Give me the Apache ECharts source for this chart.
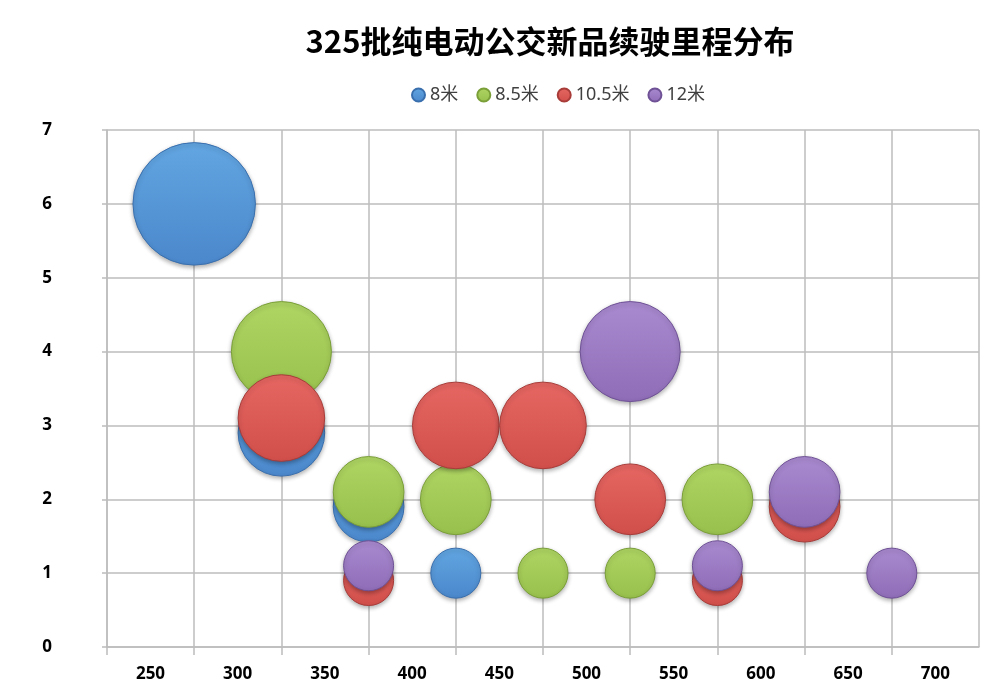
<!DOCTYPE html>
<html>
<head>
<meta charset="utf-8">
<script src="https://cdn.jsdelivr.net/npm/echarts@6/dist/echarts.min.js"></script>
<style>html,body{margin:0;padding:0;background:#fff}#c{width:1000px;height:692px}</style>
</head>
<body>
<div id="c"></div>
<script>
var titleText = '325批纯电动公交新品续驶里程分布';
var seriesNames = ['8米', '8.5米', '10.5米', '12米'];
// x: range (km), y: plotted position, n: number of models (bubble size)
var x8 = [300, 350, 400, 450];
var y8 = [6, 2.9, 1.9, 1];
var n8 = [6, 3, 2, 1];
var x85 = [350, 400, 450, 500, 550, 600];
var y85 = [4, 2.1, 2, 1, 1, 2];
var n85 = [4, 2, 2, 1, 1, 2];
var x105 = [350, 400, 450, 500, 550, 600, 650];
var y105 = [3.1, 0.9, 3, 3, 2, 0.9, 1.9];
var n105 = [3, 1, 3, 3, 2, 1, 2];
var x12 = [400, 550, 600, 650, 700];
var y12 = [1.1, 4, 1.1, 2.1, 1];
var n12 = [1, 4, 1, 2, 1];

var colors = [
  ['#62a6e2', '#4a87cb', '#3a6fae'],
  ['#afd563', '#97c04c', '#7a9f38'],
  ['#e56662', '#d14f4b', '#a83c39'],
  ['#a98ad0', '#8f6db7', '#6f5196']
];
function grad(c) {
  return new echarts.graphic.LinearGradient(0, 0, 0, 1, [
    {offset: 0, color: c[0]}, {offset: 1, color: c[1]}
  ]);
}
function build(xs, ys, ns) {
  return xs.map(function (v, i) { return [v, ys[i], ns[i]]; });
}
var sets = [build(x8, y8, n8), build(x85, y85, n85), build(x105, y105, n105), build(x12, y12, n12)];
var labelFont = 'Open Sans';
var gridColor = '#bcbcbc';

var chart = echarts.init(document.getElementById('c'));
chart.setOption({
  backgroundColor: '#fff',
  animation: false,
  title: {
    text: titleText, left: 545, top: 21, textAlign: 'center',
    textStyle: {fontSize: 31, fontWeight: 'bold', color: '#000', fontFamily: 'Noto Sans CJK SC'}
  },
  legend: {
    data: seriesNames, top: 81, left: 406,
    icon: 'circle', itemWidth: 13, itemHeight: 13, itemGap: 18,
    textStyle: {fontSize: 18, color: '#404040', fontFamily: '"Noto Sans", "Noto Sans CJK SC"'}
  },
  grid: {left: 107, right: 21, top: 130, bottom: 45},
  xAxis: {
    type: 'value', min: 250, max: 750, interval: 50,
    axisLine: {show: true, lineStyle: {color: gridColor, width: 1.5}},
    axisTick: {show: true, length: 8, lineStyle: {color: gridColor, width: 1.5}},
    splitLine: {show: true, lineStyle: {color: gridColor, width: 1.5}},
    axisLabel: {
      showMaxLabel: false, margin: 19, padding: [0, 0, 0, 87],
      fontSize: 17, fontWeight: 'bold', color: '#000', fontFamily: labelFont
    }
  },
  yAxis: {
    type: 'value', min: 0, max: 7, interval: 1,
    axisLine: {show: true, lineStyle: {color: gridColor, width: 1.5}},
    axisTick: {show: true, length: 5, lineStyle: {color: gridColor, width: 1.5}},
    splitLine: {show: true, lineStyle: {color: gridColor, width: 1.5}},
    axisLabel: {margin: 55, fontSize: 17, fontWeight: 'bold', color: '#000', fontFamily: labelFont}
  },
  series: sets.map(function (d, i) {
    return {
      name: seriesNames[i], type: 'scatter', data: d,
      symbolSize: function (v) { return 50 * Math.sqrt(v[2]); },
      itemStyle: {
        color: grad(colors[i]), borderColor: colors[i][2], borderWidth: 1,
        shadowColor: 'rgba(0,0,0,0.3)', shadowBlur: 4, shadowOffsetY: 2, opacity: 1
      },
      emphasis: {disabled: true}
    };
  })
});
</script>
</body>
</html>
